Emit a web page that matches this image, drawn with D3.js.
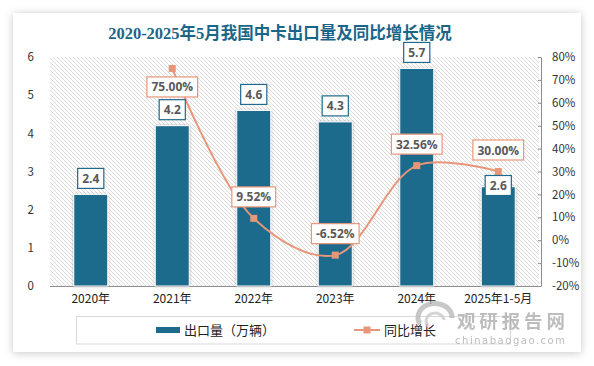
<!DOCTYPE html>
<html><head><meta charset="utf-8">
<script src="https://cdn.jsdelivr.net/npm/d3@7"></script>
<style>
html,body{margin:0;padding:0;background:#fff;}
svg{display:block;}
</style>
</head><body>
<svg id="c" width="594" height="366"></svg>
<script>
const categories = ["2020年","2021年","2022年","2023年","2024年","2025年1-5月"];
const exportVolume = [2.4, 4.2, 4.6, 4.3, 5.7, 2.6];
const yoyGrowth = [null, 75.00, 9.52, -6.52, 32.56, 30.00];
const leftTicks = [0,1,2,3,4,5,6];
const rightTicks = [-20,-10,0,10,20,30,40,50,60,70,80];
const titleText = "2020-2025年5月我国中卡出口量及同比增长情况";
const seriesNames = ["出口量（万辆）","同比增长"];

const barColor = "#1d6a8c", lineColor = "#e8967a", labelColor = "#595959";
const svg = d3.select("#c");
const defs = svg.append("defs");

const sh = defs.append("filter").attr("id","cardShadow").attr("x","-10%").attr("y","-10%").attr("width","120%").attr("height","120%");
sh.append("feDropShadow").attr("dx",0).attr("dy",1).attr("stdDeviation",4).attr("flood-color","#000").attr("flood-opacity",0.22);
const bs = defs.append("filter").attr("id","barShadow").attr("x","-30%").attr("y","-10%").attr("width","160%").attr("height","120%");
bs.append("feDropShadow").attr("dx",0).attr("dy",0).attr("stdDeviation",1.5).attr("flood-color","#000").attr("flood-opacity",0.3);

const pat = defs.append("pattern").attr("id","hatch").attr("patternUnits","userSpaceOnUse")
  .attr("width",4).attr("height",4);
pat.append("rect").attr("width",4).attr("height",4).attr("fill","#fff");
pat.append("path").attr("d","M-1,-1 L5,5 M-1,3 L1,5 M3,-1 L5,1").attr("stroke","#d2d2d2").attr("stroke-width",0.8);

// card
svg.append("rect").attr("x",13).attr("y",13).attr("width",568).attr("height",339)
  .attr("fill","#fff").attr("filter","url(#cardShadow)");

const L = 50, R = 539, T = 57, B = 286;
svg.append("rect").attr("x",L).attr("y",T).attr("width",R-L).attr("height",B-T).attr("fill","url(#hatch)");

// title
svg.append("text").attr("x",280).attr("y",39).attr("text-anchor","middle")
  .attr("font-family","'Liberation Serif','Noto Sans CJK SC',serif").attr("font-weight","bold")
  .attr("font-size",16.5).attr("fill","#1b6688").text(titleText);

const x = d3.scaleBand().domain(categories).range([L,R]).paddingInner(0.583).paddingOuter(0.2915);
const yL = d3.scaleLinear().domain([0,6]).range([B,T]);
const yR = d3.scaleLinear().domain([-20,80]).range([B,T]);
const cx = c => x(c) + x.bandwidth()/2;

const tickFont = "'Noto Sans CJK SC','Noto Sans',sans-serif";

// left axis
const gL = svg.append("g").attr("transform",`translate(${L},0)`)
  .call(d3.axisLeft(yL).tickValues(leftTicks).tickSize(0).tickPadding(16).tickFormat(d3.format("d")));
gL.select(".domain").remove();
gL.selectAll("text").attr("font-family",tickFont).attr("font-size",11.5).attr("fill","#333");

// right axis
const gR = svg.append("g").attr("transform",`translate(${R+2},0)`)
  .call(d3.axisRight(yR).tickValues(rightTicks).tickSizeInner(-3).tickSizeOuter(0).tickPadding(11).tickFormat(d => d + "%"));
gR.select(".domain").attr("stroke","#8c8c8c");
gR.selectAll("line").attr("stroke","#8c8c8c");
gR.selectAll("text").attr("font-family",tickFont).attr("font-size",11.5).attr("fill","#333");

// bottom axis
const gB = svg.append("g").attr("transform",`translate(0,${B})`)
  .call(d3.axisBottom(x).tickSize(0).tickPadding(8));
gB.select(".domain").attr("stroke","#8c8c8c").attr("d",`M${L},0.5H${R}`);
gB.selectAll("text").attr("font-family",tickFont).attr("font-size",12).attr("fill","#222");

// bars
svg.append("g").selectAll("rect").data(categories).join("rect")
  .attr("x",c => x(c)).attr("width",x.bandwidth())
  .attr("y",(c,i) => yL(exportVolume[i])).attr("height",(c,i) => B - yL(exportVolume[i]))
  .attr("fill",barColor).attr("stroke","#fff").attr("stroke-width",1).attr("filter","url(#barShadow)");

// line
const pts = categories.map((c,i) => ({c, v: yoyGrowth[i]})).filter(d => d.v !== null);
const line = d3.line().x(d => cx(d.c)).y(d => yR(d.v)).curve(d3.curveCatmullRom.alpha(0.5));
svg.append("path").datum(pts).attr("d",line).attr("fill","none").attr("stroke",lineColor).attr("stroke-width",2);
svg.append("g").selectAll("rect").data(pts).join("rect")
  .attr("x",d => cx(d.c)-3.5).attr("y",d => yR(d.v)-3.5).attr("width",7).attr("height",7).attr("fill",lineColor);

// labels
const labFont = "'Open Sans','Liberation Sans',sans-serif";
function boxLabel(g, text, xc, top, stroke) {
  const grp = g.append("g");
  const r = grp.append("rect").attr("fill","#fff").attr("stroke",stroke).attr("stroke-width",1.2);
  const t = grp.append("text").attr("font-family",labFont).attr("font-weight","bold").attr("font-size",12)
    .attr("fill",labelColor).attr("text-anchor","middle").attr("x",xc).attr("y",top+14.5).text(text);
  const w = t.node().getComputedTextLength() + 9;
  r.attr("x",xc - w/2).attr("y",top).attr("width",w).attr("height",20);
}
const labG = svg.append("g");
const lineBoxes = [];
pts.forEach(d => {
  const py = yR(d.v);
  let top = py - 11.5 - 20;
  if (top < T) top = py + 8.5;
  lineBoxes.push({c: d.c, py});
  boxLabel(labG, d.v.toFixed(2) + "%", cx(d.c), top, lineColor);
});
categories.forEach((c,i) => {
  const by = yL(exportVolume[i]);
  let top = by - 6 - 20;
  const lp = lineBoxes.find(b => b.c === c);
  if (lp && top < lp.py + 3.5 && top + 20 > lp.py - 3.5) top = lp.py + 4;
  boxLabel(labG, exportVolume[i].toFixed(1), cx(c), top, barColor);
});

// legend
svg.append("rect").attr("x",76.5).attr("y",316.5).attr("width",434).attr("height",27.5)
  .attr("fill","none").attr("stroke","#d9d9d9");
svg.append("rect").attr("x",156).attr("y",327).attr("width",24).attr("height",6).attr("fill",barColor);
svg.append("text").attr("x",184).attr("y",335).attr("font-family",tickFont).attr("font-size",13).attr("fill","#222").text(seriesNames[0]);
svg.append("line").attr("x1",354).attr("x2",380).attr("y1",330).attr("y2",330).attr("stroke",lineColor).attr("stroke-width",2);
svg.append("rect").attr("x",363.5).attr("y",326.5).attr("width",7).attr("height",7).attr("fill",lineColor);
svg.append("text").attr("x",384).attr("y",335).attr("font-family",tickFont).attr("font-size",13).attr("fill","#222").text(seriesNames[1]);

// watermark
const wm = svg.append("g").attr("opacity",0.75);
wm.append("path").attr("d","M420,324 A17,14 0 1 1 452,318").attr("fill","none").attr("stroke","#b5b5b5").attr("stroke-width",5);
wm.append("path").attr("d","M428,326 A9,8 0 1 1 444,320").attr("fill","none").attr("stroke","#c8c8c8").attr("stroke-width",3);
wm.append("text").attr("x",457).attr("y",328).attr("font-family","'Noto Sans CJK SC',sans-serif").attr("font-weight","bold")
  .attr("font-size",18.5).attr("fill","#a8a8a8").attr("textLength",108).text("观研报告网");
wm.append("text").attr("x",455).attr("y",344).attr("font-family","'DejaVu Sans',sans-serif")
  .attr("font-size",10).attr("fill","#a8a8a8").attr("textLength",110).text("chinabaogao.com");
</script>
</body></html>
